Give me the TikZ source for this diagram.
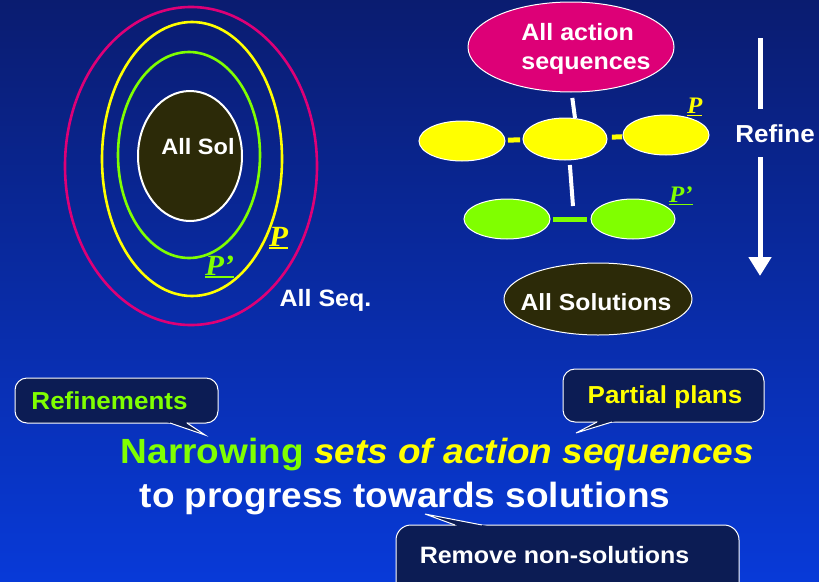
\documentclass[tikz,border=0pt]{standalone}
\usepackage{fontspec}
\setmainfont{Liberation Sans}
\newfontfamily\pserif{Liberation Serif}
\usepackage{graphicx}
\usetikzlibrary{shapes.geometric,arrows.meta}
\definecolor{bgtop}{RGB}{10,28,112}
\definecolor{bgbot}{RGB}{8,58,216}
\definecolor{mag}{RGB}{221,0,119}
\definecolor{yel}{RGB}{255,255,0}
\definecolor{lime}{RGB}{128,255,0}
\definecolor{olive}{RGB}{44,42,8}
\definecolor{navy}{RGB}{12,28,84}
\newsavebox\ulbox
\newcommand\myul[2][1.3pt]{\sbox\ulbox{#2}\rlap{\rule[-3pt]{\wd\ulbox}{#1}}\usebox\ulbox}
\newcommand\sq[1]{\scalebox{1}[0.946]{#1}}
\newcommand\fs[1]{\fontsize{#1}{#1}\selectfont}
\tikzset{
  blob/.style={ellipse, draw=white, line width=1pt, inner sep=0pt, outer sep=0pt},
  txt/.style={inner sep=0pt, outer sep=0pt, font=\bfseries, text=white},
  plab/.style={inner sep=0pt, outer sep=0pt, anchor=base west},
  cbox/.style={fill=navy, draw=white, line width=1pt},
  ring/.style={line width=2.6pt},
  wline/.style={white, line width=4pt},
}
\begin{document}
\begin{tikzpicture}[x=1pt,y=-1pt]
\path[use as bounding box] (0,0) rectangle (819,581);
\clip (0,0) rectangle (819,581);
\shade[top color=bgtop, bottom color=bgbot] (0,0) rectangle (819,581);

% left nested sets
\draw[ring, mag] (191,166) ellipse [x radius=126, y radius=159];
\draw[ring, yel] (192,159) ellipse [x radius=90, y radius=137];
\draw[ring, lime] (189,155) ellipse [x radius=71, y radius=103];
\node[blob, fill=olive, line width=2pt, minimum width=104pt, minimum height=130pt] (allsol) at (190,156) {};
\node[txt] (allsolt) at (198,147) {\sq{\fs{23.5}All Sol}};
\node[plab, text=yel] (pleft) at (269,246) {\sq{\pserif\bfseries\itshape\fs{31}\myul[1.8pt]{P}}};
\node[plab, text=lime] (ppleft) at (205,275) {\sq{\pserif\bfseries\itshape\fs{31}\myul[1.8pt]{P’}}};
\node[txt] (allseq) at (325.5,300) {\sq{\fs{25}All Seq.}};

% right tree
\node[blob, fill=mag, minimum width=206pt, minimum height=90pt] (top) at (571,47) {};
\node[txt] (topt) at (586,49) {\sq{\fontsize{25}{30.5}\selectfont\begin{tabular}{@{}l@{}}All action\\sequences\end{tabular}}};
\node[blob, fill=yel, minimum width=86pt, minimum height=40pt] (y1) at (462,141) {};
\node[blob, fill=yel, minimum width=84pt, minimum height=42pt] (y2) at (565,139) {};
\node[blob, fill=yel, minimum width=86pt, minimum height=40pt] (y3) at (666,135) {};
\node[blob, fill=lime, minimum width=86pt, minimum height=40pt] (g1) at (507,219) {};
\node[blob, fill=lime, minimum width=84pt, minimum height=40pt] (g2) at (633,219) {};
\node[blob, fill=olive, minimum width=188pt, minimum height=72pt] (sol) at (598,299) {};
\node[txt] (solt) at (596,302) {\sq{\fs{24.7}All Solutions}};
\coordinate (gj) at (573,206);
\draw[yel, line width=5pt, shorten <=3pt, shorten >=3pt] (y1) -- (y2);
\draw[yel, line width=5pt, shorten <=5pt, shorten >=1pt] (y2) -- (y3);
\draw[lime, line width=5pt, shorten <=3pt, shorten >=4pt] (g1) -- (g2);
\draw[wline, shorten <=6pt] ([xshift=0.5pt]top.south) -- ([xshift=10pt]y2.north);
\draw[wline, shorten <=5pt] ([xshift=4.5pt]y2.south) -- (gj);
\node[plab, text=yel] (pright) at (687,113) {\sq{\pserif\bfseries\itshape\fs{25}\myul[1.3pt]{P}}};
\node[plab, text=lime] (ppright) at (669,202) {\sq{\pserif\bfseries\itshape\fs{25}\myul[1.3pt]{P’}}};

% refine arrow
\node[txt] (refine) at (775,134) {\sq{\fs{26}Refine}};
\coordinate (r1) at (760,38);
\coordinate (r2) at (760,109);
\coordinate (r3) at (760,157);
\coordinate (r4) at (760,276);
\draw[white, line width=5pt] (r1) -- (r2);
\draw[white, line width=5pt, -{Triangle[width=22pt,length=19pt]}] (r3) -- (r4);

% callouts
\draw[cbox, rounded corners=12pt] (15,378) rectangle (218,423);
\fill[navy] (161.25,420) -- (205,435) -- (182.5,420) -- cycle;
\draw[white, line width=1pt] (170,423) -- (205,435) -- (187,423);
\node[txt, anchor=base, text=lime] (refn) at (109.5,409) {\sq{\fs{26}Refinements}};

\draw[cbox, rounded corners=12pt] (563,369) rectangle (764,422);
\fill[navy] (602.7,419) -- (576,433) -- (621.8,419) -- cycle;
\draw[white, line width=1pt] (597,422) -- (576,433) -- (612,422);
\node[txt, anchor=base, text=yel] (partial) at (665,403) {\sq{\fs{26}Partial plans}};

\draw[cbox, rounded corners=15pt] (396,525) rectangle (739,600);
\fill[navy] (463.2,528) -- (425,514) -- (497.5,528) -- cycle;
\draw[white, line width=1pt] (455,525) -- (425,514) -- (482,525);
\node[txt, anchor=base] (remove) at (554.5,563) {\sq{\fs{25}Remove non-solutions}};

% main text
\node[txt, anchor=base] (line1) at (437.5,463) {\sq{\fs{37}\textcolor{lime}{Narrowing} \textcolor{yel}{\itshape sets of action sequences}}};
\node[txt, anchor=base] (line2) at (405,507) {\sq{\fs{37}to progress towards solutions}};
\end{tikzpicture}
\end{document}
